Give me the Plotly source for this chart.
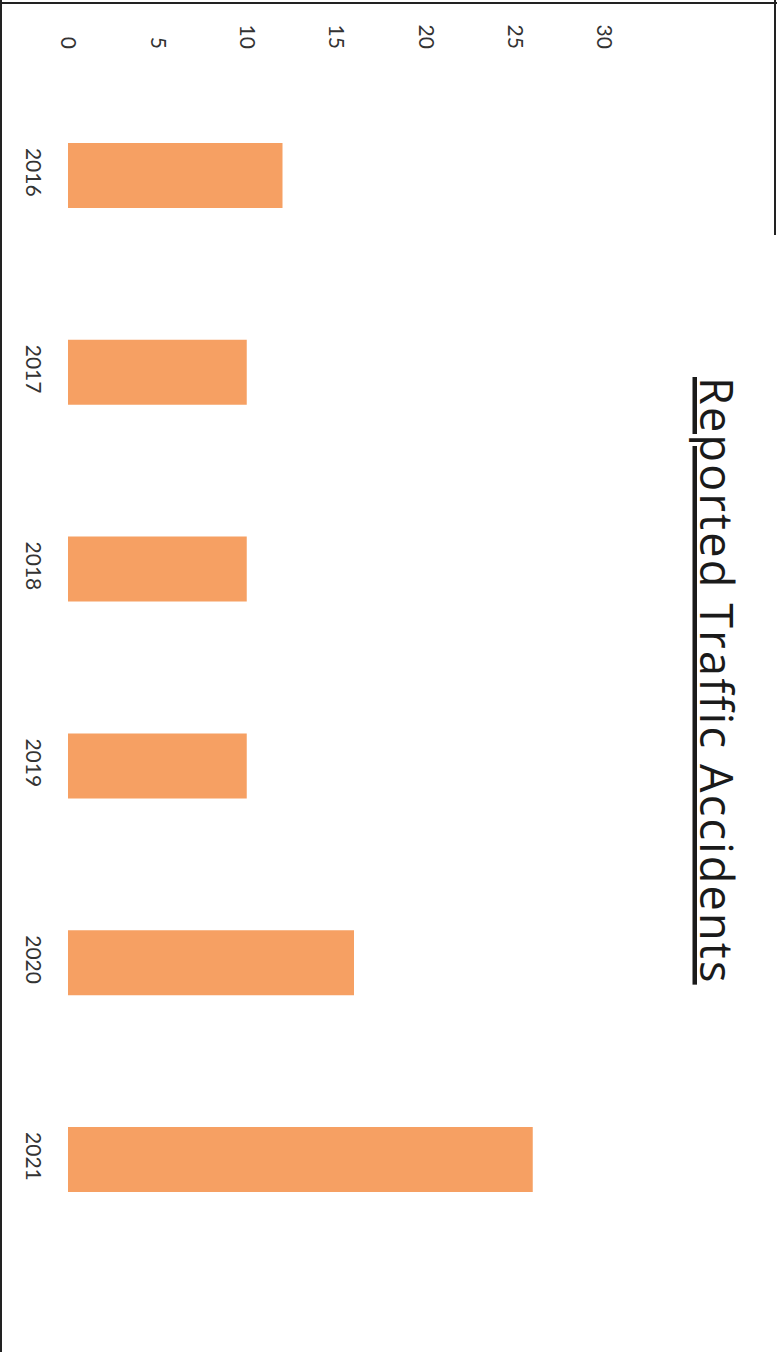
import plotly.graph_objects as go

years = ["2016", "2017", "2018", "2019", "2020", "2021"]
accidents = [12, 10, 10, 10, 16, 26]
tick_vals = [0, 5, 10, 15, 20, 25, 30]
title_text = "Reported Traffic Accidents"

W, H = 777, 1352
L, R, T, B = 68, 137, 77, 94
PW, PH = W - L - R, H - T - B


def px_x(px):
    return (px - L) / PW


def px_y(py):
    return (H - B - py) / PH


fig = go.Figure()
fig.add_trace(go.Bar(
    x=accidents, y=years, orientation="h",
    marker=dict(color="#F6A063", line=dict(width=0)),
))

tick_font = dict(family="Lato, Open Sans, sans-serif", size=21, color="#333333")

fig.update_layout(
    width=W, height=H,
    margin=dict(l=L, r=R, t=T, b=B),
    paper_bgcolor="white", plot_bgcolor="white",
    showlegend=False,
    bargap=0.67,
    xaxis=dict(
        side="top", range=[0, 32], tickvals=tick_vals,
        ticktext=[str(v) for v in tick_vals],
        tickangle=90, showgrid=False, zeroline=False, showline=False,
        ticks="", tickfont=tick_font, ticklabelstandoff=24,
    ),
    yaxis=dict(
        categoryorder="array", categoryarray=years, autorange="reversed",
        tickangle=90, showgrid=False, zeroline=False, showline=False,
        ticks="", tickfont=tick_font, ticklabelstandoff=20,
    ),
    annotations=[dict(
        text='<u><span style="letter-spacing:2.2px">' + title_text + "</span></u>",
        xref="paper", yref="paper",
        x=px_x(718), y=px_y(681), xanchor="center", yanchor="middle",
        textangle=90, showarrow=False,
        font=dict(family="Open Sans, Lato, sans-serif", size=45, color="#1a1a1a"),
    )],
    shapes=[
        dict(type="line", xref="paper", yref="paper",
             x0=px_x(0), x1=px_x(W), y0=px_y(3), y1=px_y(3),
             line=dict(color="#222222", width=2)),
        dict(type="line", xref="paper", yref="paper",
             x0=px_x(1), x1=px_x(1), y0=px_y(0), y1=px_y(H),
             line=dict(color="#222222", width=2)),
        dict(type="line", xref="paper", yref="paper",
             x0=px_x(775), x1=px_x(775), y0=px_y(0), y1=px_y(235),
             line=dict(color="#222222", width=2)),
    ],
)

fig.write_html("out.html", config={"displayModeBar": False},
               post_script="document.body.style.margin='0px';")
